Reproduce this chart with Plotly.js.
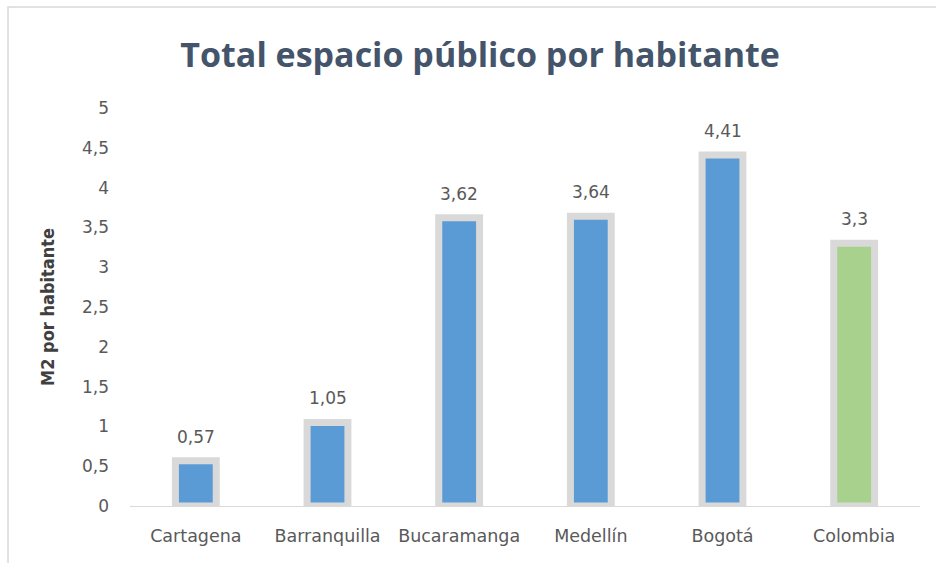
<!DOCTYPE html>
<html>
<head>
<meta charset="utf-8">
<script src="https://cdn.plot.ly/plotly-3.0.1.min.js"></script>
<style>
html,body{margin:0;padding:0;background:#fff;}
#chart{width:936px;height:563px;}
</style>
</head>
<body>
<div id="chart"></div>
<script>
var categories = ["Cartagena", "Barranquilla", "Bucaramanga", "Medellín", "Bogotá", "Colombia"];
var values = [0.57, 1.05, 3.62, 3.64, 4.41, 3.3];
var barColors = ["#5B9BD5", "#5B9BD5", "#5B9BD5", "#5B9BD5", "#5B9BD5", "#A9D18E"];
var yTickValues = [0, 0.5, 1, 1.5, 2, 2.5, 3, 3.5, 4, 4.5, 5];

var labelFont = {family: "DejaVu Sans, sans-serif", size: 17, color: "#595959"};

var trace = {
  type: "bar",
  x: categories,
  y: values,
  width: 0.31,
  marker: {
    color: barColors,
    line: {color: "#D9D9D9", width: 7}
  },
  hoverinfo: "x+y"
};

var annotations = categories.map(function (c, i) {
  return {
    x: c, y: values[i], xref: "x", yref: "y",
    text: String(values[i]).replace(".", ","),
    showarrow: false, yshift: 24,
    font: labelFont
  };
});

var layout = {
  width: 936, height: 563,
  margin: {l: 130, r: 16, t: 108, b: 57},
  paper_bgcolor: "#ffffff",
  plot_bgcolor: "#ffffff",
  separators: ",.",
  showlegend: false,
  title: {
    text: "<b>Total espacio público por habitante</b>",
    x: 0.513, xanchor: "center", xref: "container",
    y: 0.902, yanchor: "middle", yref: "container",
    font: {family: "Open Sans, sans-serif", size: 34, color: "#44546A"}
  },
  xaxis: {
    type: "category",
    showline: true, linecolor: "#D9D9D9", linewidth: 1,
    showgrid: false, zeroline: false, ticks: "",
    ticklabelstandoff: 14,
    tickfont: {family: "DejaVu Sans, sans-serif", size: 17.5, color: "#595959"}
  },
  yaxis: {
    range: [0, 5],
    tickvals: yTickValues,
    showline: false, showgrid: false, zeroline: false, ticks: "",
    ticklabelstandoff: 20,
    tickfont: labelFont,
    title: {
      text: "<b>M2 por habitante</b>",
      standoff: 22,
      font: {family: "DejaVu Sans Condensed, sans-serif", size: 18, color: "#404040"}
    }
  },
  annotations: annotations,
  shapes: [{
    type: "rect", xref: "paper", yref: "paper",
    x0: -0.1544, x1: 1.2, y0: -0.3, y1: 1.2538,
    line: {color: "#D9D9D9", width: 1.5}, fillcolor: "rgba(0,0,0,0)", layer: "below"
  }]
};

Plotly.newPlot("chart", [trace], layout, {displayModeBar: false, staticPlot: true});
</script>
</body>
</html>
